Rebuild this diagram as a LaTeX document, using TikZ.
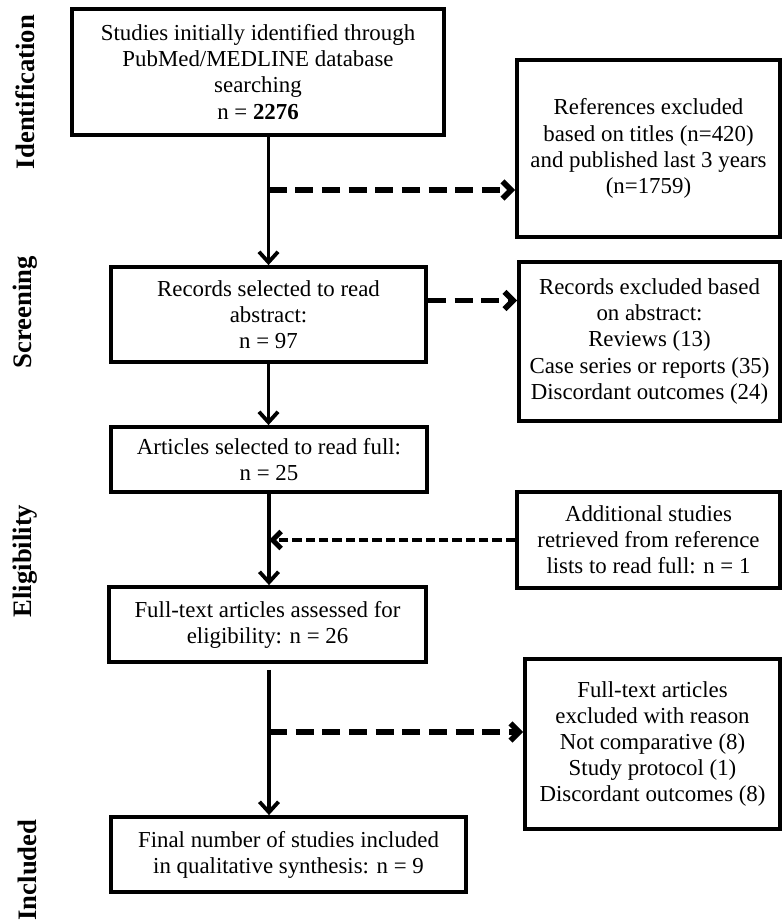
\documentclass[tikz,border=0pt]{standalone}
\usepackage{fontspec}
\setmainfont{Liberation Serif}
\usetikzlibrary{calc, positioning}
\usetikzlibrary{arrows.meta}

\begin{document}
\begin{tikzpicture}[x=0.525pt,y=-0.525pt,
  stagebox/.style={draw, line width=2pt, align=center, inner sep=0pt,
    font=\fontsize{12}{13.7}\selectfont},
  boxwh/.style 2 args={minimum width=#1*0.525pt, minimum height=#2*0.525pt},
  flow/.style={line width=2pt, -{Straight Barb[length=5.5pt,width=10pt]}},
  skip/.style={line width=3pt, dash pattern=on 9.5pt off 4.5pt,
    -{Straight Barb[length=4.5pt,width=9pt]}},
  skipdense/.style={line width=2.6pt, dash pattern=on 5pt off 2pt,
    -{Straight Barb[length=4.5pt,width=9pt]}},
  phase/.style={rotate=90, font=\fontsize{14}{16}\selectfont\bfseries}]
\useasboundingbox (0,0) rectangle (781,921);

\node[phase] (ident) at (25,92) {Identification};
\node[phase] (screen) at (25,312) {Screening};
\node[phase] (elig) at (25,561) {Eligibility};
\node[phase] (incl) at (27,870) {Included};

\node[stagebox, boxwh={372}{126}] (search) at (258,72)
  {Studies initially identified through\\PubMed/MEDLINE database\\searching\\n = \textbf{2276}};
\node[stagebox, boxwh={263}{177}] (titles) at (648.5,148.5)
  {References excluded\\based on titles (n=420)\\and published last 3 years\\(n=1759)};
\node[stagebox, boxwh={315}{95}] (abstract) at (268.5,314.5)
  {Records selected to read\\abstract:\\n = 97};
\node[stagebox, boxwh={261}{159}] (abstractout) at (649.5,341.5)
  {Records excluded based\\on abstract:\\Reviews (13)\\Case series or reports (35)\\Discordant outcomes (24)};
\node[stagebox, boxwh={316}{65}] (fullread) at (269,459.5)
  {Articles selected to read full:\\n = 25};
\node[stagebox, boxwh={263}{96}] (extra) at (648.5,540)
  {Additional studies\\retrieved from reference\\lists to read full: n = 1};
\node[stagebox, boxwh={317}{75}] (assessed) at (267.5,624.5)
  {Full-text articles assessed for\\eligibility: n = 26};
\node[stagebox, boxwh={255}{170}] (fullout) at (652.5,744)
  {Full-text articles\\excluded with reason\\Not comparative (8)\\Study protocol (1)\\Discordant outcomes (8)};
\node[stagebox, boxwh={355}{75}] (final) at (288.5,854.5)
  {Final number of studies included\\in qualitative synthesis: n = 9};

\coordinate (tee1) at (abstract.north |- 0,190);
\coordinate (tee2) at ($(abstract.east)+(0,-14)$);
\coordinate (tee4) at (fullread.south |- 0,732);
\coordinate (gap) at ($(assessed.south -| fullread.south)+(0,6)$);

\draw[flow] (search.south -| abstract.north) -- (abstract.north);
\draw[skip] (tee1) -- (tee1 -| titles.west);
\draw[skip] (tee2) -- (tee2 -| abstractout.west);
\draw[flow] (abstract.south) -- (abstract.south |- fullread.north);
\draw[flow] (fullread.south) -- (fullread.south |- assessed.north);
\draw[skipdense] (extra.west) -- (extra.west -| fullread.south);
\draw[flow] (gap) -- (final.north -| fullread.south);
\draw[skip] (tee4) -- (tee4 -| fullout.west);
\end{tikzpicture}
\end{document}
